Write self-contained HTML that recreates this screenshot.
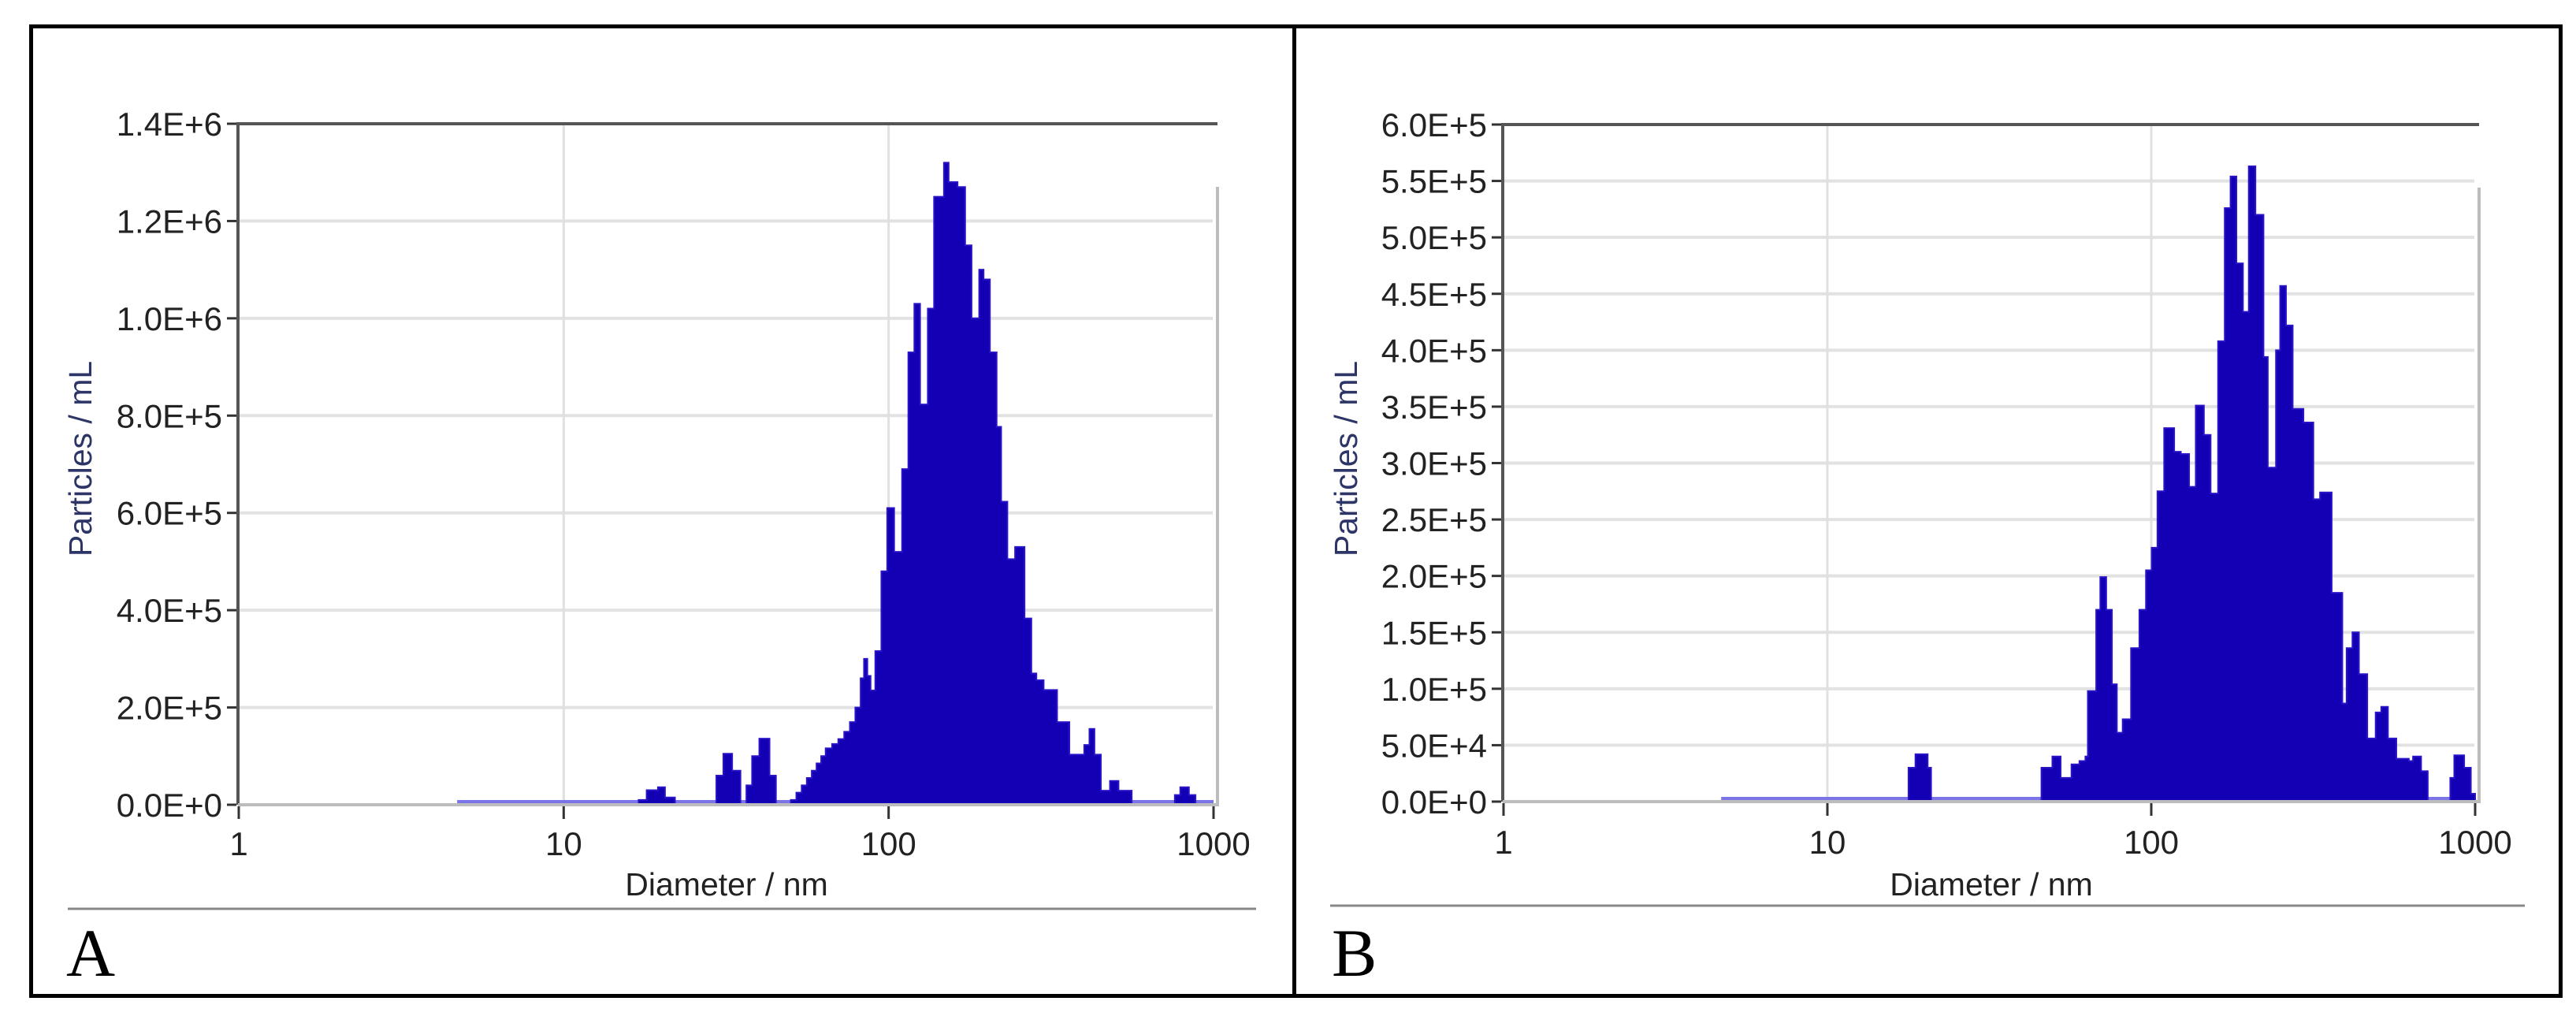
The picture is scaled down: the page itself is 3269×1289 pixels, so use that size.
<!DOCTYPE html>
<html><head><meta charset="utf-8"><style>
html,body{margin:0;padding:0;background:#fff;}
svg{display:block;}
text{font-family:"Liberation Sans",sans-serif;}
</style></head><body>
<svg id="fig" width="3269" height="1289" viewBox="0 0 3269 1289" xmlns="http://www.w3.org/2000/svg">
<rect x="39.5" y="33.5" width="3210" height="1230" fill="none" stroke="#000" stroke-width="5"/>
<line x1="1642.5" y1="33" x2="1642.5" y2="1264" stroke="#000" stroke-width="5"/>
<line x1="86" y1="1153" x2="1594" y2="1153" stroke="#888" stroke-width="3"/>
<line x1="1688" y1="1149" x2="3204" y2="1149" stroke="#888" stroke-width="3"/>
<text x="84" y="1238" style="font-family:'Liberation Serif',serif" font-size="86">A</text>
<text x="1690" y="1238" style="font-family:'Liberation Serif',serif" font-size="86">B</text>
<g id="chartA"></g>
<g id="chartB"></g>
</svg>
<script>
// Chart A data (left bin edge in nm, particles/mL)
const edgesA = [4.7,17,18,19.5,20.5,22,29.5,31,33,35,36.5,38,40,43,45,50,52,54,56,58,60,62,64,67,70,73,76,79,82,84,86,88,91,95,99,104,110,115,120,125,132,138,148,153,163,172,180,190,196,205,215,222,232,245,262,275,285,300,330,360,400,415,430,450,480,510,560,760,790,840,880];
const valuesA = [0,10e3,30e3,36e3,15e3,0,60e3,105e3,70e3,0,40e3,100e3,136e3,60e3,0,10e3,25e3,40e3,55e3,70e3,85e3,100e3,116e3,125e3,135e3,150e3,170e3,200e3,260e3,300e3,265e3,235e3,316e3,480e3,610e3,520e3,690e3,930e3,1030e3,823e3,1020e3,1250e3,1320e3,1280e3,1270e3,1150e3,1000e3,1100e3,1080e3,930e3,777e3,623e3,505e3,530e3,383e3,270e3,256e3,236e3,170e3,103e3,123e3,156e3,103e3,29e3,49e3,29e3,0,20e3,36e3,20e3,0];
const ticksA = [0,2e5,4e5,6e5,8e5,1e6,1.2e6,1.4e6];
const tickLabelsA = ["0.0E+0","2.0E+5","4.0E+5","6.0E+5","8.0E+5","1.0E+6","1.2E+6","1.4E+6"];
// Chart B data
const edgesB = [4.7,17.8,18.7,20.4,20.9,45.8,49.5,52.5,56.7,60,62.6,63.7,67.6,69.6,72.6,75.6,78.3,81.6,86.6,91.9,96.3,100.3,104.5,109.6,117.7,123.4,130.9,137.2,145.4,152.5,160.8,168.6,175.7,183.2,191.9,200,209.7,222.1,229,242.7,250,260.6,273.3,295,316.6,332,360.6,389,401,418,437.7,464.5,493,513,538,571,624,643,681,714,838,862,925,970];
const valuesB = [0,30e3,42e3,30e3,0,30e3,40e3,21e3,33e3,36e3,40e3,98e3,170e3,199e3,170e3,104e3,61e3,73e3,136e3,170e3,205e3,225e3,275e3,331e3,310e3,308e3,279e3,351e3,325e3,273e3,408e3,526e3,554e3,477e3,434e3,563e3,520e3,394e3,296e3,400e3,457e3,422e3,348e3,336e3,268e3,274e3,185e3,87e3,136e3,150e3,113e3,56e3,79e3,84e3,56e3,38e3,36e3,40e3,27e3,0,21e3,41e3,30e3,7e3];
const ticksB = [0,5e4,1e5,1.5e5,2e5,2.5e5,3e5,3.5e5,4e5,4.5e5,5e5,5.5e5,6e5];
const tickLabelsB = ["0.0E+0","5.0E+4","1.0E+5","1.5E+5","2.0E+5","2.5E+5","3.0E+5","3.5E+5","4.0E+5","4.5E+5","5.0E+5","5.5E+5","6.0E+5"];
const xTicks = [1,10,100,1000];
const xTickLabels = ["1","10","100","1000"];

const NS = "http://www.w3.org/2000/svg";
function mk(parent, tag, attrs){
  const e = document.createElementNS(NS, tag);
  for (const k in attrs) e.setAttribute(k, attrs[k]);
  parent.appendChild(e);
  return e;
}
function drawChart(g, cfg, edges, values, ticks, tickLabels){
  const L = cfg.left, R = cfg.right, T = cfg.top, B = cfg.bottom;
  const x0 = cfg.x1, x3 = cfg.x1000;
  const xs = d => x0 + (x3 - x0) * Math.log10(d) / 3;
  const ymax = ticks[ticks.length-1];
  const ys = v => B - (B - T) * v / ymax;
  ticks.forEach((t,i) => {
    if (i === 0 || i === ticks.length-1) return;
    const gl = mk(g,'line',{x1:L,x2:R-6,y1:ys(t),y2:ys(t),stroke:'#e2e2e2','stroke-width':4});
    
    
  });
  [10,100].forEach(d => {
    const gl = mk(g,'line',{x1:xs(d),x2:xs(d),y1:T,y2:B,stroke:'#e0e0e0','stroke-width':3});
    
    
  });
  const bl = mk(g,'line',{x1:xs(4.7),x2:xs(1000),y1:B-4,y2:B-4,stroke:'#7a74e8','stroke-width':4});
  
  
  let d = '';
  for (let i = 0; i < edges.length; i++){
    const xa = xs(edges[i]);
    const xb = i + 1 < edges.length ? xs(edges[i+1]) : xs(1000);
    const y = ys(values[i]);
    d += (i === 0 ? 'M' + xa + ' ' + B + ' L' : ' L') + xa + ' ' + y + ' L' + xb + ' ' + y;
  }
  d += ' L' + xs(1000) + ' ' + B + ' Z';
  const p = mk(g,'path',{d:d,fill:'#1400b4',stroke:'#2a14c8','stroke-width':2});
  
  
  const f1 = mk(g,'path',{d:`M${L} ${B} L${L} ${T} L${R} ${T}`,fill:'none',stroke:'#555','stroke-width':4});
  
  
  const f2 = mk(g,'path',{d:`M${R} ${T+80} L${R} ${B} L${L} ${B}`,fill:'none',stroke:'#bdbdbd','stroke-width':4});
  
  
  ticks.forEach((t,i) => {
    const tk = mk(g,'line',{x1:L-14,x2:L-2,y1:ys(t),y2:ys(t),stroke:'#333','stroke-width':3});
    
    
    const tx = mk(g,'text',{x:L-20,y:ys(t)+15,'text-anchor':'end','font-size':cfg.fs,fill:'#222'});
    tx.textContent = tickLabels[i];
    
    
  });
  xTicks.forEach((t,i) => {
    const tk = mk(g,'line',{x1:xs(t),x2:xs(t),y1:B+2,y2:B+18,stroke:'#333','stroke-width':3});
    
    
    const tx = mk(g,'text',{x:xs(t),y:cfg.xlabY,'text-anchor':'middle','font-size':42,fill:'#222'});
    tx.textContent = xTickLabels[i];
    
    
  });
  const xt = mk(g,'text',{x:cfg.xTitleX,y:1136,'text-anchor':'middle','font-size':41,fill:'#222'});
  xt.textContent = 'Diameter / nm';
  
  
  const yt = mk(g,'text',{x:0,y:0,'text-anchor':'middle','font-size':41,fill:'#2c3566',transform:`translate(${cfg.yTitleX},582) rotate(-90)`});
  yt.textContent = 'Particles / mL';
  
  
}
drawChart(document.getElementById('chartA'),
  {left:302,right:1545,top:157,bottom:1021,x1:303,x1000:1540,fs:42,xlabY:1085,xTitleX:922,yTitleX:116},
  edgesA, valuesA, ticksA, tickLabelsA);
drawChart(document.getElementById('chartB'),
  {left:1907,right:3146,top:158,bottom:1017,x1:1908,x1000:3141,fs:42,xlabY:1083,xTitleX:2527,yTitleX:1722},
  edgesB, valuesB, ticksB, tickLabelsB);
</script>
</body></html>
